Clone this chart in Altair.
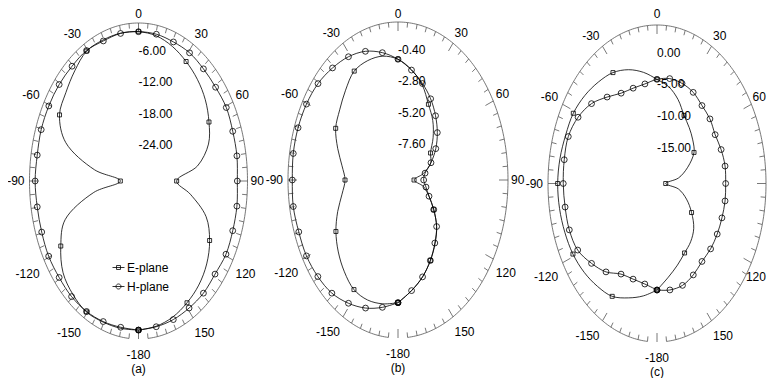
import altair as alt
import pandas as pd

# ---------------- data ----------------
ANGLES = list(range(-180, 181, 10))

# panel (a)  range -30 .. 0 dB
A_E = [-1.7, -1.6, -1.5, -1.3, -1.9, -2.9, -5.3, -8.5, -17.5, -25.0,
       -17.7, -8.7, -4.9, -3.9, -2.7, -1.5, -1.5, -1.5, -1.65,
       -2.0, -2.8, -3.8, -4.8, -6.0, -7.6, -9.5, -13.5, -19.5,
       -15.5, -10.2, -7.4, -5.5, -4.2, -3.3, -2.5, -2.0, -1.7]
A_H = [-1.7, -1.8, -1.6, -1.4, -1.35, -1.5, -1.45, -1.65, -1.7, -1.55,
       -1.7, -1.5, -1.5, -1.5, -1.55, -1.4, -1.7, -1.55, -1.65,
       -1.7, -1.9, -1.9, -2.2, -2.3, -2.1, -2.4, -2.5, -2.8,
       -2.5, -2.4, -2.2, -2.5, -2.2, -2.15, -2.0, -1.9, -1.7]
# panel (b)  range -10 .. 2 dB
B_E = [-0.68, -0.45, -0.3, -0.39, -0.9, -1.5, -2.18, -3.0, -3.8, -4.22,
       -3.8, -3.0, -2.15, -1.7, -1.1, -0.45, -0.35, -0.45, -0.83,
       -1.5, -2.3, -3.36, -4.1, -5.0, -5.9, -6.2, -7.2, -8.25,
       -7.2, -6.4, -5.5, -4.5, -3.7, -2.94, -2.17, -1.47, -0.68]
B_H = [-0.68, -0.18, 0.35, 0.81, 1.22, 1.41, 1.53, 1.52, 1.6, 1.53,
       1.6, 1.6, 1.53, 1.39, 1.11, 0.81, 0.4, -0.18, -0.83,
       -1.52, -2.2, -2.88, -3.63, -4.4, -5.24, -6.17, -7.0, -7.2,
       -6.9, -6.4, -5.5, -4.5, -3.75, -2.94, -2.17, -1.47, -0.68]
# panel (c)  range -20 .. 5 dB
C_E = [-3.2, -2.0, -0.8, 0.55, 1.2, 1.8, 2.26, 2.5, 2.7, 2.78,
       2.6, 2.3, 2.16, 1.6, 0.9, 0.2, -0.9, -2.2, -3.57,
       -4.5, -5.9, -7.6, -8.5, -9.3, -10.2, -12.5, -15.0, -18.0,
       -15.0, -12.8, -10.85, -9.0, -8.0, -7.35, -6.3, -5.0, -3.2]
C_H = [-3.2, -3.9, -3.95, -3.5, -1.8, -0.4, 1.0, 1.4, 1.4, 1.5,
       1.6, 1.65, 0.9, -0.4, -2.2, -3.55, -4.0, -4.05, -3.57,
       -3.2, -3.2, -3.4, -3.95, -4.15, -4.6, -4.35, -4.15, -4.25,
       -4.15, -4.15, -4.05, -3.95, -3.95, -3.35, -2.9, -2.95, -3.2]

PANELS = ["a", "b", "c"]
SERIES = {"a": (A_E, A_H), "b": (B_E, B_H), "c": (C_E, C_H)}
SERIES_NAMES = ["E-plane", "H-plane"]

RADIAL_VALUES = {"a": [-6, -12, -18, -24], "b": [-0.4, -2.8, -5.2, -7.6], "c": [0, -5, -10, -15]}
RADIAL_LABELS = {"a": ["-6.00", "-12.00", "-18.00", "-24.00"],
                 "b": ["-0.40", "-2.80", "-5.20", "-7.60"],
                 "c": ["0.00", "-5.00", "-10.00", "-15.00"]}
ANGLE_TICKS = [-150, -120, -90, -60, -30, 0, 30, 60, 90, 120, 150, 180]
ANGLE_LABELS = ["-150", "-120", "-90", "-60", "-30", "0", "30", "60", "90", "120", "150", "-180"]
CAPTIONS = ["(a)", "(b)", "(c)"]

# ---------------- layout ----------------
W, H = 759, 370
FONT = "Liberation Sans, Arial, sans-serif"
FS = 12
GEOM = pd.DataFrame({
    "panel": PANELS,
    "cx": [130.5, 390.0, 649.0],
    "cy": [173.0, 172.0, 175.5],
    "rx": [109.0, 110.0, 109.0],
    "ry": [158.0, 158.0, 158.5],
    "lo": [-30.0, -10.0, -20.0],
    "hi": [0.0, 2.0, 5.0],
})
LOOKUP = alt.LookupData(GEOM, key="panel", fields=["cx", "cy", "rx", "ry", "lo", "hi"])

rows = []
for p in PANELS:
    for name, vals in zip(["E", "H"], SERIES[p]):
        for a, v in zip(ANGLES, vals):
            rows.append({"panel": p, "series": name, "key": p + name, "a": a, "db": v})
curves = pd.DataFrame(rows)

rad_rows = []
for p in PANELS:
    for v, l in zip(RADIAL_VALUES[p], RADIAL_LABELS[p]):
        rad_rows.append({"panel": p, "a": 0, "db": v, "label": l})
radial = pd.DataFrame(rad_rows)

XS = alt.Scale(domain=[0, W], nice=False, zero=False)
YS = alt.Scale(domain=[0, H], nice=False, zero=False, reverse=True)
X = alt.X("px:Q", scale=XS, axis=None)
Y = alt.Y("py:Q", scale=YS, axis=None)


def geo(ch):
    return (ch.transform_lookup(lookup="panel", from_=LOOKUP)
              .transform_calculate(s="sin(datum.a * PI / 180)")
              .transform_calculate(c="cos(datum.a * PI / 180)"))


def polar(ch):
    return (geo(ch)
            .transform_calculate(rn="clamp((datum.db - datum.lo) / (datum.hi - datum.lo), 0, 1)")
            .transform_calculate(px="datum.cx + datum.rn * datum.rx * datum.s")
            .transform_calculate(py="datum.cy - datum.rn * datum.ry * datum.c"))


def per_panel(ch):
    return ch.transform_calculate(panel="['a','b','c']").transform_flatten(["panel"])


# outer ellipse (gap at the bottom as in the figure)
outline = geo(per_panel(alt.Chart(alt.sequence(-175, 175.5, 1, as_="a")))) \
    .transform_calculate(px="datum.cx + datum.rx * datum.s") \
    .transform_calculate(py="datum.cy - datum.ry * datum.c") \
    .mark_line(color="#555555", strokeWidth=0.8) \
    .encode(x=X, y=Y, detail="panel:N", order=alt.Order("a:Q"))

ticks = geo(per_panel(alt.Chart(alt.sequence(-175, 181, 5, as_="a")))) \
    .transform_calculate(len="(datum.a % 30 == 0) ? 9 : 5") \
    .transform_calculate(px="datum.cx + datum.rx * datum.s") \
    .transform_calculate(py="datum.cy - datum.ry * datum.c") \
    .transform_calculate(px2="datum.cx + (datum.rx - datum.len) * datum.s") \
    .transform_calculate(py2="datum.cy - (datum.ry - datum.len) * datum.c") \
    .mark_rule(color="#555555", strokeWidth=0.8) \
    .encode(x=X, y=Y, x2="px2:Q", y2="py2:Q")

lines = polar(alt.Chart(curves)).mark_line(
    interpolate="catmull-rom", color="black", strokeWidth=0.8
).encode(x=X, y=Y, detail="key:N", order=alt.Order("a:Q"))

e_marks = polar(alt.Chart(curves)).transform_filter(
    "datum.series == 'E' && datum.a % 30 == 0"
).mark_point(shape="square", size=16, filled=False, color="black", strokeWidth=0.8, opacity=1).encode(x=X, y=Y)

h_marks = polar(alt.Chart(curves)).transform_filter(
    "datum.series == 'H'"
).mark_point(shape="circle", size=34, filled=False, color="black", strokeWidth=0.8, opacity=1).encode(x=X, y=Y)

rad_text = polar(alt.Chart(radial)).mark_text(
    align="left", baseline="alphabetic", font=FONT, fontSize=FS, color="black"
).encode(x=X, y=Y, text="label:N")

ang_base = geo(per_panel(alt.Chart(pd.DataFrame({"a": ANGLE_TICKS, "label": ANGLE_LABELS})))) \
    .transform_calculate(ex="datum.cx + datum.rx * datum.s") \
    .transform_calculate(ey="datum.cy - datum.ry * datum.c") \
    .transform_calculate(px0="datum.ex + ((datum.a < 0) ? -(1 + 4 * abs(datum.s)) : ((datum.a > 0 && datum.a < 180) ? 3 * abs(datum.s) : 0))") \
    .transform_calculate(px=f"(datum.a > 0 && datum.a < 180 && datum.a != 90) ? min(datum.px0, {W} - 1 - 6.7 * length(datum.label)) : datum.px0") \
    .transform_calculate(py="max(6, datum.ey + ((abs(datum.c) < 0.01) ? 0 : ((datum.c > 0) ? -(3 + 8 * datum.c) : (12 + 4 * abs(datum.c)))))")

ang_left = ang_base.transform_filter("datum.a < 0").mark_text(
    align="right", baseline="middle", font=FONT, fontSize=FS, color="black").encode(x=X, y=Y, text="label:N")
ang_right = ang_base.transform_filter("datum.a > 0 && datum.a < 180").mark_text(
    align="left", baseline="middle", font=FONT, fontSize=FS, color="black").encode(x=X, y=Y, text="label:N")
ang_mid = ang_base.transform_filter("datum.a == 0 || datum.a == 180").mark_text(
    align="center", baseline="middle", font=FONT, fontSize=FS, color="black").encode(x=X, y=Y, text="label:N")

captions = alt.Chart(pd.DataFrame({"panel": PANELS, "label": CAPTIONS})) \
    .transform_lookup(lookup="panel", from_=LOOKUP) \
    .transform_calculate(px="datum.cx") \
    .transform_calculate(py="datum.cy + datum.ry + 30") \
    .mark_text(align="center", baseline="middle", font=FONT, fontSize=FS, color="black") \
    .encode(x=X, y=Y, text="label:N")

PATH_E = "M-1,0H1M-0.33,-0.33H0.33V0.33H-0.33Z"
PATH_H = "M-1,0H1M0.42,0A0.42,0.42,0,1,1,-0.42,0A0.42,0.42,0,1,1,0.42,0Z"
legend_layer = alt.Chart(pd.DataFrame({"name": SERIES_NAMES})).mark_point(
    opacity=0, filled=False, color="black"
).encode(
    x=alt.value(0), y=alt.value(0),
    shape=alt.Shape("name:N",
                    scale=alt.Scale(domain=SERIES_NAMES, range=[PATH_E, PATH_H]),
                    legend=alt.Legend(orient="none", legendX=104, legendY=253, title=None,
                                      symbolSize=144, symbolStrokeWidth=0.8,
                                      symbolStrokeColor="black", symbolFillColor="transparent",
                                      symbolOpacity=1, labelFont=FONT, labelFontSize=FS,
                                      labelColor="black", rowPadding=6, labelOffset=2, padding=0))
)

chart = alt.layer(
    outline, ticks, lines, e_marks, h_marks, rad_text, ang_left, ang_right, ang_mid, captions, legend_layer
).properties(
    width=W, height=H, padding=0, autosize=alt.AutoSizeParams(type="none"), background="white"
).configure_view(strokeWidth=0)

chart.save("out.html", embed_options={"renderer": "svg", "actions": False})
